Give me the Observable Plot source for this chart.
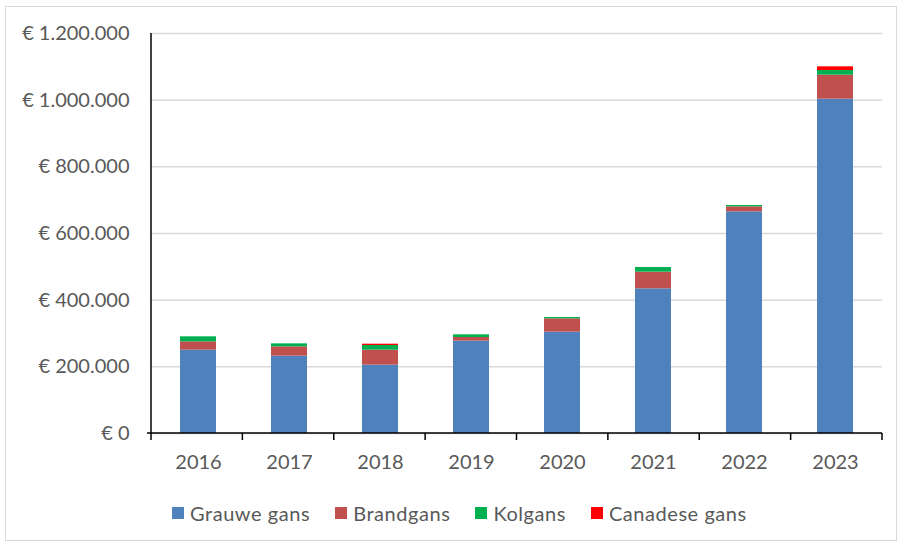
<!DOCTYPE html>
<html><head><meta charset="utf-8">
<script src="https://cdn.jsdelivr.net/npm/d3@7"></script>
<script src="https://cdn.jsdelivr.net/npm/@observablehq/plot@0.6"></script>
<style>
body{margin:0;background:#fff;font-family:Lato,"Open Sans",sans-serif;width:899px;height:544px;position:relative;overflow:hidden}
#frame{position:absolute;left:5px;top:6px;width:892px;height:535px;border:1px solid #d9d9d9;box-sizing:border-box}
#chart{position:absolute;left:0;top:0}
#legend{position:absolute;left:172px;top:501px;display:flex;align-items:center;font-size:20px;letter-spacing:0.55px;color:#595959;white-space:nowrap}
.item{display:flex;align-items:center;margin-right:25px}
.sw{width:12px;height:12px;margin-right:6px}
</style></head><body>
<div id="frame"></div>
<div id="chart"></div>
<div id="legend"></div>
<script>
const years = [2016, 2017, 2018, 2019, 2020, 2021, 2022, 2023];
const species = ["Grauwe gans", "Brandgans", "Kolgans", "Canadese gans"];
const colors = ["#4f81bd", "#c0504d", "#00b050", "#ff0000"];
const grauweGans = [250000, 232000, 205000, 277000, 304000, 434000, 665000, 1003000];
const brandgans = [25000, 28000, 45000, 11000, 40000, 50000, 15000, 72000];
const kolgans = [15000, 9000, 14000, 8000, 4000, 14000, 4000, 14000];
const canadeseGans = [0, 0, 4000, 0, 0, 0, 0, 11000];
const yTicks = [0, 200000, 400000, 600000, 800000, 1000000, 1200000];

const series = [grauweGans, brandgans, kolgans, canadeseGans];
const rows = [];
years.forEach((yr, i) => species.forEach((s, j) => rows.push({year: yr, species: s, value: series[j][i]})));

const fmt = d => "€ " + d3.format(",")(d).replace(/,/g, ".");

function axisLines(index, scales, values, dim) {
  const {width, height, marginLeft, marginRight, marginTop, marginBottom} = dim;
  const y0 = scales.y(0);
  const step = (width - marginLeft - marginRight) / years.length;
  const g = d3.create("svg:g").attr("stroke", "#000").attr("stroke-width", 1.5);
  g.append("line").attr("x1", marginLeft).attr("x2", marginLeft).attr("y1", scales.y(yTicks[yTicks.length - 1])).attr("y2", y0);
  g.append("line").attr("x1", marginLeft - 4).attr("x2", width - marginRight).attr("y1", y0).attr("y2", y0);
  d3.range(years.length + 1).forEach(i => {
    const x = marginLeft + i * step;
    g.append("line").attr("x1", x).attr("x2", x).attr("y1", y0).attr("y2", y0 + 7);
  });
  return g.node();
}

const chart = Plot.plot({
  width: 899,
  height: 485,
  marginLeft: 151,
  marginRight: 17,
  marginTop: 33,
  marginBottom: 52,
  style: {fontFamily: "Lato, 'Open Sans', sans-serif", fontSize: "20px", color: "#595959", background: "transparent"},
  x: {domain: years, paddingInner: 0.6, paddingOuter: 0.3, label: null},
  y: {domain: [0, 1200000], label: null},
  color: {domain: species, range: colors},
  marks: [
    Plot.gridY(yTicks, {stroke: "#d9d9d9", strokeOpacity: 1, strokeWidth: 1.5}),
    Plot.barY(rows, Plot.stackY({x: "year", y: "value", fill: "species", order: species})),
    Plot.axisY(yTicks, {tickSize: 0, tickPadding: 22, tickFormat: fmt, fontSize: 20, fill: "#595959"}),
    Plot.axisX({tickSize: 0, tickPadding: 21, fontSize: 20, fill: "#595959", tickFormat: d => String(d)}),
    axisLines
  ]
});
document.getElementById("chart").appendChild(chart);

const legend = document.getElementById("legend");
species.forEach((s, i) => {
  const it = document.createElement("div"); it.className = "item";
  const sw = document.createElement("div"); sw.className = "sw"; sw.style.background = colors[i];
  const t = document.createElement("span"); t.textContent = s;
  it.appendChild(sw); it.appendChild(t); legend.appendChild(it);
});
</script></body></html>
